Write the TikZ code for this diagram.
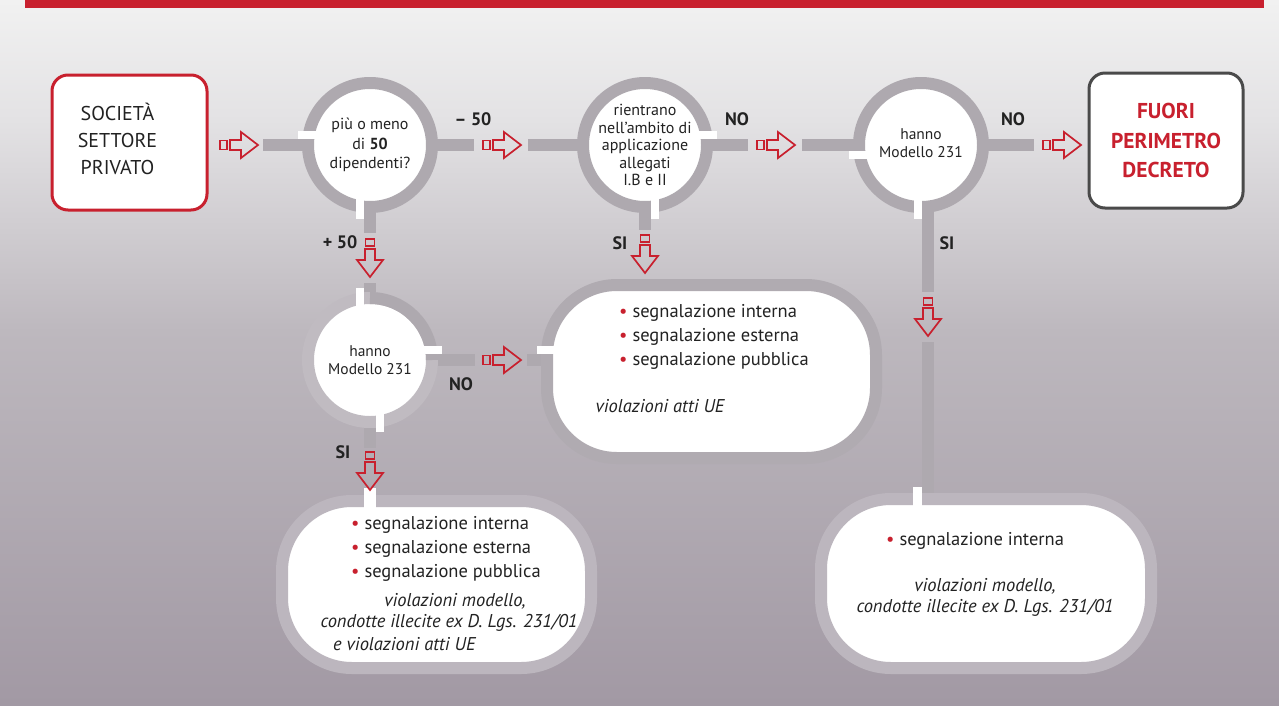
\documentclass[tikz,border=0pt]{standalone}
\usepackage{fontspec}
\setmainfont{PT Sans}
\usetikzlibrary{calc}
\definecolor{myred}{HTML}{C8202E}
\definecolor{pipec}{HTML}{AEA9AF}
\definecolor{ringlt}{HTML}{C0BBC1}
\definecolor{ringA}{HTML}{B0ABB1}
\definecolor{ringB}{HTML}{BCB6BE}
\definecolor{txt}{HTML}{222222}
\definecolor{boxgray}{HTML}{4A4A4A}
\definecolor{bgA}{HTML}{F1F1F1}
\definecolor{bgB}{HTML}{E3E2E4}
\definecolor{bgC}{HTML}{BDB8BE}
\definecolor{bgD}{HTML}{A299A4}
\pgfdeclarelayer{back}
\pgfdeclarelayer{pipes}
\pgfsetlayers{back,pipes,main}
\newcommand{\rbul}{\textcolor{myred}{•}\ }
\begin{document}
\begin{tikzpicture}[x=1pt,y=-1pt,
  flowpipe/.style={draw=pipec, line width=12pt},
  circ/.style={circle, fill=white, draw=pipec, line width=12pt, minimum size=124pt, inner sep=0pt, align=center, text=txt},
  gapbox/.style={fill=white, draw=none},
  lbl/.style={font=\fontsize{18}{20}\selectfont\bfseries, text=txt, inner sep=0pt},
  pill/.style={rectangle, rounded corners=70pt, fill=white, line width=12pt, inner sep=0pt},
  bul/.style={font=\fontsize{18.5}{24}\selectfont, text=txt, align=left, inner sep=0pt, anchor=west},
  itl/.style={font=\fontsize{18.5}{22}\selectfont\itshape, text=txt, inner sep=0pt},
  rarr/.pic={
    \draw[myred, line width=1.7pt, line join=miter] (-38,-4.5) rectangle (-31,4.5);
    \draw[myred, line width=1.7pt, line join=miter] (-28,-5) -- (-17,-5) -- (-17,-13) -- (0,0) -- (-17,13) -- (-17,5) -- (-28,5) -- cycle;
  }
]
\useasboundingbox (0,0) rectangle (1279,705);
\begin{pgfonlayer}{back}
  \shade[top color=bgA, bottom color=bgB] (0,0) rectangle (1279,121);
  \shade[top color=bgB, bottom color=bgC] (0,120) rectangle (1279,331);
  \shade[top color=bgC, bottom color=bgD] (0,330) rectangle (1279,705);
  \fill[myred] (25,0) rectangle (1264,8);
\end{pgfonlayer}

% boxes
\node[draw=myred, line width=3pt, rounded corners=16pt, fill=white, minimum width=155pt, minimum height=135pt, text=txt, font=\fontsize{20}{27}\selectfont] (soc) at (129.5,142.5) {\begin{tabular}{@{}c@{}}SOCIETÀ\\SETTORE\\PRIVATO\end{tabular}\rule{24pt}{0pt}};
\node[draw=boxgray, line width=3pt, rounded corners=16pt, fill=white, minimum width=154pt, minimum height=135pt, align=center, text=myred, font=\fontsize{21.5}{29.5}\selectfont\bfseries] (fuori) at (1166,140.5) {FUORI\\PERIMETRO\\DECRETO};

% circles
\node[circ, font=\fontsize{16}{19.5}\selectfont] (c1) at (370,145) {più o meno\\di \textbf{50}\\dipendenti?};
\node[circ, font=\fontsize{16}{17.5}\selectfont] (c2) at (645,145) {rientrano\\nell'ambito di\\applicazione\\allegati\\I.B e II};
\node[circ, font=\fontsize{15.5}{18}\selectfont] (c3) at (921,145) {\raisebox{6pt}{\begin{tabular}{@{}c@{}}hanno\\Modello 231\end{tabular}}};
\node[circ, draw=ringlt, font=\fontsize{15.5}{18}\selectfont] (c4) at (370,360) {hanno\\Modello 231};

% pills
\node[pill, draw=ringA, minimum width=329pt, minimum height=173pt] (pA) at (711.5,371.5) {};
\node[pill, draw=ringB, minimum width=309pt, minimum height=167pt] (pB) at (436.5,584.5) {};
\node[pill, draw=ringB, minimum width=330pt, minimum height=169pt] (pC) at (986,583.5) {};

% coordinates
\coordinate (e1) at (263,145);
\coordinate (e2) at (474,145);
\coordinate (e3) at (528,145);
\coordinate (e4) at (748,145);
\coordinate (e5) at (802,145);
\coordinate (e6) at (1034,145);
\coordinate (e7) at (370,233);
\coordinate (e8) at (370,283);
\coordinate (e9) at (645,230);
\coordinate (e11) at (928,292);
\coordinate (e12) at (928,342);
\coordinate (e13) at (475,360);
\coordinate (e14) at (527,360);
\coordinate (e15) at (370,448);
\coordinate (t1) at (258,145);
\coordinate (t2) at (521,145);
\coordinate (t3) at (795,145);
\coordinate (t4) at (1081,145);
\coordinate (t5) at (521,360);
\coordinate (t6) at (370,277);
\coordinate (t7) at (645,273);
\coordinate (t8) at (928,336);
\coordinate (t9) at (370,490);

\begin{pgfonlayer}{pipes}
  \draw[flowpipe] (e1) -- (c1.center);
  \draw[flowpipe] (c1.center) -- (e2);
  \draw[flowpipe] (e3) -- (c2.center);
  \draw[flowpipe] (c2.center) -- (e4);
  \draw[flowpipe] (e5) -- (c3.center);
  \draw[flowpipe] (c3.center) -- (e6);
  \draw[flowpipe] (c1.center) -- (e7);
  \draw[flowpipe] (e8) -- (c4.center);
  \draw[flowpipe] (c2.center) -- (e9);
  \draw[flowpipe] (c3.center -| e11) -- (e11);
  \draw[flowpipe] (e12) -- (pC.north -| e12);
  \draw[flowpipe] (c4.center) -- (e13);
  \draw[flowpipe] (e14) -- (pA.west |- e14);
  \draw[flowpipe] (c4.center) -- (e15);
\end{pgfonlayer}

% dark arc on c4
\draw[flowpipe] (c4.center) ++(0,-62) arc[start angle=270, end angle=360, radius=62];

% notches
\fill[gapbox] (298,131) rectangle (322,139);
\fill[gapbox] (356,195) rectangle (364,219);
\fill[gapbox] (693,131) rectangle (717,139);
\fill[gapbox] (651,195) rectangle (659,219);
\fill[gapbox] (849,151) rectangle (873,159);
\fill[gapbox] (914,195) rectangle (922,219);
\fill[gapbox] (356,288) rectangle (364,312);
\fill[gapbox] (418,346) rectangle (442,354);
\fill[gapbox] (376,408) rectangle (384,432);
\fill[gapbox] (537,346) rectangle (559,354);
\fill[gapbox] (364,488) rectangle (376,512);
\fill[gapbox] (913,487) rectangle (922,511);

% arrows
\pic at (t1) {rarr};
\pic at (t2) {rarr};
\pic at (t3) {rarr};
\pic at (t4) {rarr};
\pic at (t5) {rarr};
\pic[rotate=-90] at (t6) {rarr};
\pic[rotate=-90] at (t7) {rarr};
\pic[rotate=-90] at (t8) {rarr};
\pic[rotate=-90] at (t9) {rarr};

% labels
\node[lbl] (lm50) at (473,119) {– 50};
\node[lbl] (lp50) at (340,242) {+ 50};
\node[lbl] (lno1) at (737,119) {NO};
\node[lbl] (lno2) at (1013,119) {NO};
\node[lbl] (lno3) at (461,384) {NO};
\node[lbl] (lsi1) at (620,243) {SI};
\node[lbl] (lsi2) at (947,243) {SI};
\node[lbl] (lsi3) at (343,452) {SI};

% pill texts
\node[bul] (pAl) at (619,337) {\rbul segnalazione interna\\\rbul segnalazione esterna\\\rbul segnalazione pubblica};
\node[itl] (pAi) at (660,406) {violazioni atti UE};
\node[bul] (pBl) at (351,549) {\rbul segnalazione interna\\\rbul segnalazione esterna\\\rbul segnalazione pubblica};
\node[itl] (pBi1) at (455,601) {violazioni modello,};
\node[itl] (pBi2) at (449,623) {condotte illecite ex D. Lgs. 231/01};
\node[itl, anchor=west] (pBi3) at (333,644) {e violazioni atti UE};
\node[bul] (pCl) at (886,541) {\rbul segnalazione interna};
\node[itl] (pCi1) at (985,586) {violazioni modello,};
\node[itl] (pCi2) at (985,608) {condotte illecite ex D. Lgs. 231/01};
\end{tikzpicture}
\end{document}
